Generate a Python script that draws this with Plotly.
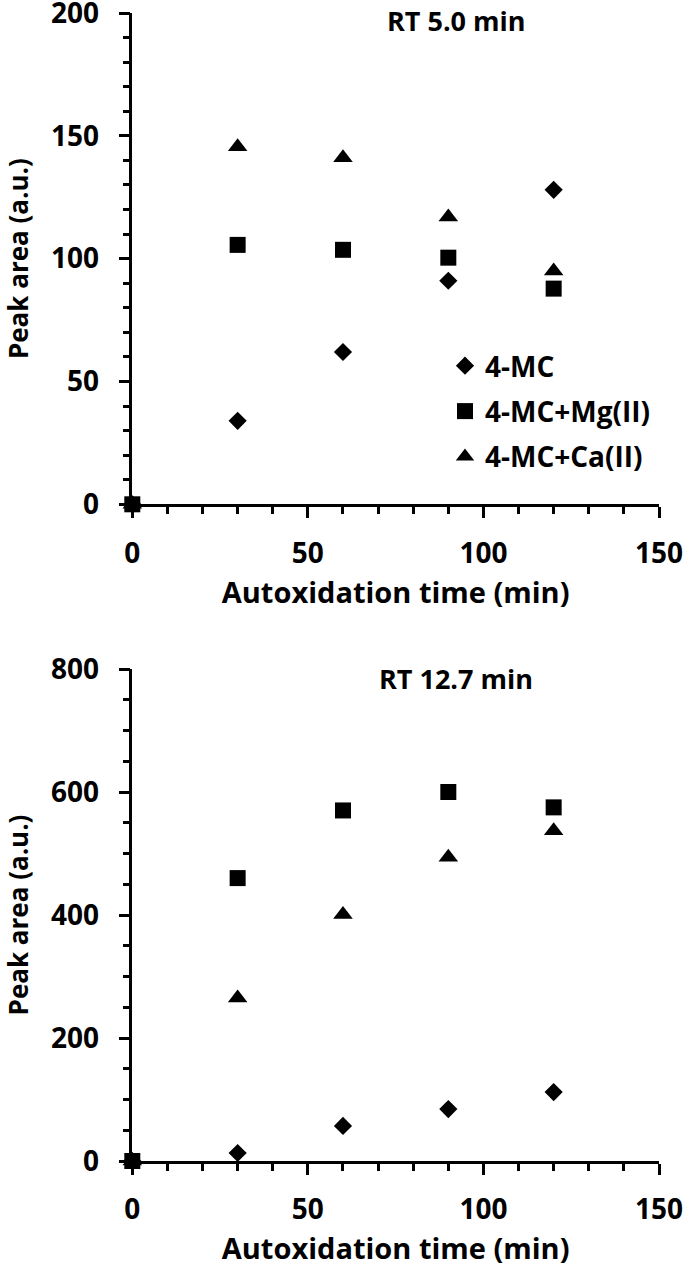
import plotly.graph_objects as go

# ---- data ----
time_min = [0, 30, 60, 90, 120]
series_names = ["4-MC", "4-MC+Mg(II)", "4-MC+Ca(II)"]

rt50_mc = [0, 34, 62, 91, 128]
rt50_mg = [0, 105.6, 103.6, 100.4, 87.8]
rt50_ca = [0, 145.6, 141.1, 117, 95]

rt127_mc = [0, 13, 57, 84.5, 112]
rt127_mg = [0, 460, 570, 600, 575]
rt127_ca = [0, 265, 401, 494, 537]

x_ticks = [0, 50, 100, 150]
y1_ticks = [0, 50, 100, 150, 200]
y2_ticks = [0, 200, 400, 600, 800]

symbols = ["diamond", "square", "triangle-up"]
sizes = [14, 16, 17]

FONT = "Open Sans, sans-serif"
W, H = 685, 1267

fig = go.Figure()

top = [rt50_mc, rt50_mg, rt50_ca]
bot = [rt127_mc, rt127_mg, rt127_ca]
for i, name in enumerate(series_names):
    fig.add_trace(go.Scatter(
        x=time_min, y=top[i], mode="markers", name=name,
        marker=dict(symbol=symbols[i], size=sizes[i], color="black"),
        cliponaxis=False, xaxis="x", yaxis="y", legendgroup=name,
    ))
for i, name in enumerate(series_names):
    fig.add_trace(go.Scatter(
        x=time_min, y=bot[i], mode="markers", name=name,
        marker=dict(symbol=symbols[i], size=sizes[i], color="black"),
        cliponaxis=False, xaxis="x2", yaxis="y2", showlegend=False,
    ))

def px_x(p):
    return p / W

def px_y(p):
    return 1 - p / H

tickfont = dict(family=FONT, size=28, color="black", weight="bold")
xtitlefont = dict(family=FONT, size=29, color="black", weight="bold")
ytitlefont = dict(family=FONT, size=26, color="black", weight="bold")
common_axis = dict(
    showline=True, linecolor="black", linewidth=2.5,
    ticks="outside", ticklen=11, tickwidth=2.5, tickcolor="black",
    showgrid=False, zeroline=False, tickfont=tickfont, automargin=False,
    ticklabeloverflow="allow",
)

xdom = [px_x(132.3), px_x(659)]
fig.update_layout(
    template="none",
    width=W, height=H,
    margin=dict(l=0, r=0, t=0, b=0, pad=0),
    paper_bgcolor="white", plot_bgcolor="white",
    font=dict(family=FONT, color="black"),
    xaxis=dict(domain=xdom, range=[0, 150], anchor="y", tickvals=x_ticks,
               ticklabelstandoff=11,
               minor=dict(ticks="outside", dtick=10, ticklen=7, tickwidth=2.5, tickcolor="black"),
               title=dict(text="Autoxidation time (min)", font=xtitlefont, standoff=14),
               **common_axis),
    yaxis=dict(domain=[px_y(504.3), px_y(13)], range=[0, 200], anchor="x", tickvals=y1_ticks,
               ticklabelstandoff=14,
               minor=dict(ticks="outside", dtick=10, ticklen=7, tickwidth=2.5, tickcolor="black"),
               title=dict(text="Peak area (a.u.)", font=ytitlefont, standoff=22),
               **common_axis),
    xaxis2=dict(domain=xdom, range=[0, 150], anchor="y2", tickvals=x_ticks,
                ticklabelstandoff=11,
                minor=dict(ticks="outside", dtick=10, ticklen=7, tickwidth=2.5, tickcolor="black"),
                title=dict(text="Autoxidation time (min)", font=xtitlefont, standoff=14),
                **common_axis),
    yaxis2=dict(domain=[px_y(1161), px_y(669)], range=[0, 800], anchor="x2", tickvals=y2_ticks,
                ticklabelstandoff=14,
                minor=dict(ticks="outside", dtick=50, ticklen=7, tickwidth=2.5, tickcolor="black"),
                title=dict(text="Peak area (a.u.)", font=ytitlefont, standoff=22),
                **common_axis),
    legend=dict(x=px_x(445), y=px_y(341), xanchor="left", yanchor="top",
                font=dict(family=FONT, size=28, color="black", weight="bold"),
                bgcolor="rgba(0,0,0,0)", tracegroupgap=6, traceorder="grouped"),
    showlegend=True,
    annotations=[
        dict(text="RT 5.0 min", x=px_x(456), y=px_y(21), xref="paper", yref="paper",
             xanchor="center", yanchor="middle",
             showarrow=False, font=dict(family=FONT, size=27, weight="bold", color="black")),
        dict(text="RT 12.7 min", x=px_x(456), y=px_y(678), xref="paper", yref="paper",
             xanchor="center", yanchor="middle",
             showarrow=False, font=dict(family=FONT, size=27, weight="bold", color="black")),
    ],
)

fig.write_html("out.html", config={"displayModeBar": False},
               post_script="document.body.style.margin='0px';")
